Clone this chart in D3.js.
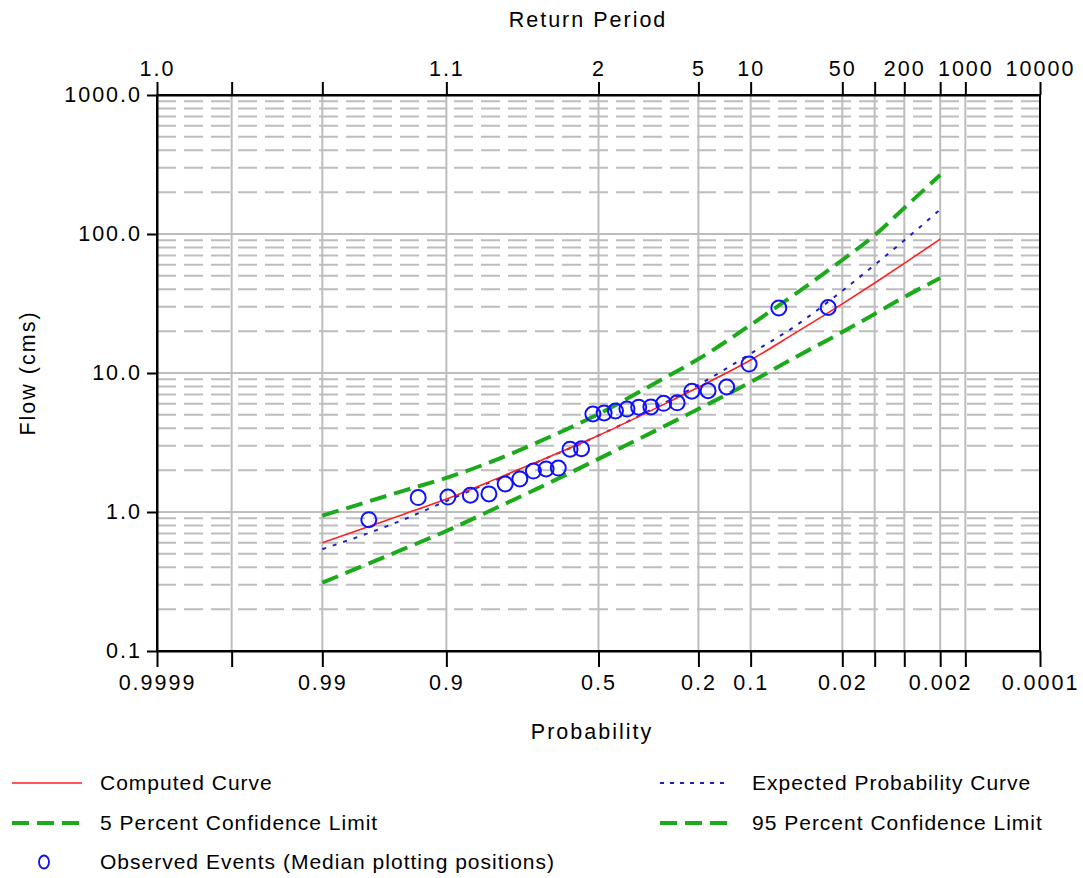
<!DOCTYPE html>
<html>
<head>
<meta charset="utf-8">
<script src="https://cdn.jsdelivr.net/npm/d3@7"></script>
<style>
body { margin: 0; background: #fff; }
text { font-family: "Liberation Sans", Arial, sans-serif; fill: #000; }
</style>
</head>
<body>
<div id="chart"></div>
<script>
// exceedance probabilities used for the fitted curves
var curveProbs = [0.99, 0.95, 0.9, 0.8, 0.7, 0.5, 0.3, 0.2, 0.1, 0.05, 0.02, 0.01, 0.005, 0.002];
var computedFlow = [0.60, 0.96, 1.24, 1.76, 2.28, 3.55, 5.8, 7.9, 12.4, 19.1, 31.4, 44.4, 61.4, 92];
var expectedFlow = [0.54, 0.88, 1.20, 1.74, 2.27, 3.55, 5.9, 8.2, 13.8, 21.4, 39, 60, 90, 150];
var upperFlow = [0.94, 1.42, 1.76, 2.41, 3.14, 5.07, 8.9, 12.6, 22.2, 36.4, 65, 98, 154, 266];
var lowerFlow = [0.31, 0.54, 0.73, 1.09, 1.46, 2.41, 4.02, 5.51, 8.6, 12.8, 19.7, 26.6, 35.2, 48.2];

// observed events, median plotting positions
var obsProbs = [0.0265, 0.0644, 0.1023, 0.1402, 0.1780, 0.2159, 0.2538, 0.2917, 0.3295, 0.3674, 0.4053, 0.4432, 0.4811,
                0.5189, 0.5568, 0.5947, 0.6326, 0.6705, 0.7083, 0.7462, 0.7841, 0.8220, 0.8598, 0.8977, 0.9356, 0.9735];
var obsFlow = [29.6, 29.4, 11.6, 7.93, 7.45, 7.4, 6.1, 6.05, 5.7, 5.68, 5.5, 5.33, 5.16,
               5.07, 2.85, 2.83, 2.07, 2.04, 1.97, 1.73, 1.59, 1.35, 1.32, 1.28, 1.27, 0.88];

// axis ticks
var probTicks = [0.9999, 0.999, 0.99, 0.9, 0.5, 0.2, 0.1, 0.02, 0.01, 0.005, 0.002, 0.001, 0.0001];
var probLabels = ["0.9999", "", "0.99", "0.9", "0.5", "0.2", "0.1", "0.02", "", "", "0.002", "", "0.0001"];
var returnLabels = ["1.0", "", "", "1.1", "2", "5", "10", "50", "", "200", "", "1000", "10000"];
var flowTicks = [0.1, 1, 10, 100, 1000];

var width = 1083;
var height = 878;
var plotL = 157, plotR = 1040, plotT = 95, plotB = 651;

// inverse standard normal (Acklam)
function qnorm(p) {
    var a = [-3.969683028665376e+01, 2.209460984245205e+02, -2.759285104469687e+02, 1.383577518672690e+02, -3.066479806614716e+01, 2.506628277459239e+00];
    var b = [-5.447609879822406e+01, 1.615858368580409e+02, -1.556989798598866e+02, 6.680131188771972e+01, -1.328068155288572e+01];
    var c = [-7.784894002430293e-03, -3.223964580411365e-01, -2.400758277161838e+00, -2.549732539343734e+00, 4.374664141464968e+00, 2.938163982698783e+00];
    var d = [7.784695709041462e-03, 3.224671290700398e-01, 2.445134137142996e+00, 3.754408661907416e+00];
    var pl = 0.02425, q, r;
    if (p < pl) {
        q = Math.sqrt(-2 * Math.log(p));
        return (((((c[0] * q + c[1]) * q + c[2]) * q + c[3]) * q + c[4]) * q + c[5]) / ((((d[0] * q + d[1]) * q + d[2]) * q + d[3]) * q + 1);
    }
    if (p <= 1 - pl) {
        q = p - 0.5; r = q * q;
        return (((((a[0] * r + a[1]) * r + a[2]) * r + a[3]) * r + a[4]) * r + a[5]) * q / (((((b[0] * r + b[1]) * r + b[2]) * r + b[3]) * r + b[4]) * r + 1);
    }
    q = Math.sqrt(-2 * Math.log(1 - p));
    return -(((((c[0] * q + c[1]) * q + c[2]) * q + c[3]) * q + c[4]) * q + c[5]) / ((((d[0] * q + d[1]) * q + d[2]) * q + d[3]) * q + 1);
}
// exceedance probability -> normal deviate
function zp(p) { return qnorm(1 - p); }

var x = d3.scaleLinear().domain([zp(0.9999), zp(0.0001)]).range([plotL, plotR]);
var y = d3.scaleLog().domain([0.1, 1000]).range([plotB, plotT]);
function px(p) { return x(zp(p)); }

var svg = d3.select("#chart").append("svg")
    .attr("width", width)
    .attr("height", height);

// horizontal grid
var minorFlows = y.ticks().filter(function (v) {
    var l = Math.log10(v);
    return Math.abs(l - Math.round(l)) > 1e-6;
});
svg.selectAll("line.hminor")
    .data(minorFlows)
    .enter().append("line")
    .attr("class", "hminor")
    .attr("x1", plotL).attr("x2", plotR)
    .attr("y1", y).attr("y2", y)
    .attr("stroke", "#bdbdbd")
    .attr("stroke-width", 2)
    .attr("stroke-dasharray", "19,8");
svg.selectAll("line.hmajor")
    .data([1, 10, 100])
    .enter().append("line")
    .attr("class", "hmajor")
    .attr("x1", plotL).attr("x2", plotR)
    .attr("y1", y).attr("y2", y)
    .attr("stroke", "#bdbdbd")
    .attr("stroke-width", 2);

// vertical grid
svg.selectAll("line.vgrid")
    .data(probTicks.slice(1, probTicks.length - 1))
    .enter().append("line")
    .attr("class", "vgrid")
    .attr("x1", px).attr("x2", px)
    .attr("y1", plotT).attr("y2", plotB)
    .attr("stroke", "#bdbdbd")
    .attr("stroke-width", 2);

// curves
function curveData(vals) {
    return curveProbs.map(function (p, i) { return { p: p, q: vals[i] }; });
}
var line = d3.line()
    .x(function (d) { return px(d.p); })
    .y(function (d) { return y(d.q); })
    .curve(d3.curveMonotoneX);

svg.append("path")
    .datum(curveData(upperFlow))
    .attr("d", line)
    .attr("fill", "none")
    .attr("stroke", "#1aaa1a")
    .attr("stroke-width", 4)
    .attr("stroke-dasharray", "17,8");
svg.append("path")
    .datum(curveData(lowerFlow))
    .attr("d", line)
    .attr("fill", "none")
    .attr("stroke", "#1aaa1a")
    .attr("stroke-width", 4)
    .attr("stroke-dasharray", "17,8");
svg.append("path")
    .datum(curveData(expectedFlow))
    .attr("d", line)
    .attr("fill", "none")
    .attr("stroke", "#2020c0")
    .attr("stroke-width", 2)
    .attr("stroke-dasharray", "4,7");
svg.append("path")
    .datum(curveData(computedFlow))
    .attr("d", line)
    .attr("fill", "none")
    .attr("stroke", "#ff2020")
    .attr("stroke-width", 1.6);

// observed events
svg.selectAll("circle.obs")
    .data(obsProbs)
    .enter().append("circle")
    .attr("class", "obs")
    .attr("cx", function (d) { return px(d); })
    .attr("cy", function (d, i) { return y(obsFlow[i]); })
    .attr("r", 7.5)
    .attr("fill", "none")
    .attr("stroke", "#1010ff")
    .attr("stroke-width", 2);

// frame
svg.append("rect")
    .attr("x", plotL).attr("y", plotT)
    .attr("width", plotR - plotL).attr("height", plotB - plotT)
    .attr("fill", "none")
    .attr("stroke", "#000")
    .attr("stroke-width", 2);

// axes
var zTicks = probTicks.map(zp);
var gBottom = svg.append("g")
    .attr("transform", "translate(0," + plotB + ")")
    .call(d3.axisBottom(x).tickValues(zTicks).tickSize(16).tickSizeOuter(0).tickPadding(8)
        .tickFormat(function (d, i) { return probLabels[i]; }));
var gTop = svg.append("g")
    .attr("transform", "translate(0," + plotT + ")")
    .call(d3.axisTop(x).tickValues(zTicks).tickSize(13).tickSizeOuter(0).tickPadding(6)
        .tickFormat(function (d, i) { return returnLabels[i]; }));
var gLeft = svg.append("g")
    .attr("transform", "translate(" + plotL + ",0)")
    .call(d3.axisLeft(y).tickValues(flowTicks).tickSize(10).tickSizeOuter(0).tickPadding(5)
        .tickFormat(d3.format(".1f")));

[gBottom, gTop, gLeft].forEach(function (g) {
    g.select(".domain").attr("stroke-width", 2);
    g.selectAll(".tick line").attr("stroke-width", 2);
    g.selectAll(".tick text")
        .style("font-family", "'Liberation Sans', Arial, sans-serif")
        .style("font-size", "21.5px")
        .style("letter-spacing", "2px");
});

// axis titles
svg.append("text")
    .attr("x", 588).attr("y", 27)
    .attr("text-anchor", "middle")
    .style("font-size", "21.5px").style("letter-spacing", "2px")
    .text("Return Period");
svg.append("text")
    .attr("x", 592).attr("y", 739)
    .attr("text-anchor", "middle")
    .style("font-size", "21.5px").style("letter-spacing", "2px")
    .text("Probability");
svg.append("text")
    .attr("transform", "translate(35,373) rotate(-90)")
    .attr("text-anchor", "middle")
    .style("font-size", "21.5px").style("letter-spacing", "2px")
    .text("Flow (cms)");

// legend
var legendItems = [
    { name: "Computed Curve", kind: "line", color: "#ff2020", w: 1.6, dash: null, col: 0, row: 0 },
    { name: "Expected Probability Curve", kind: "line", color: "#2020c0", w: 2, dash: "4,6", col: 1, row: 0 },
    { name: "5 Percent Confidence Limit", kind: "line", color: "#1aaa1a", w: 4, dash: "17,8", col: 0, row: 1 },
    { name: "95 Percent Confidence Limit", kind: "line", color: "#1aaa1a", w: 4, dash: "17,8", col: 1, row: 1 },
    { name: "Observed Events (Median plotting positions)", kind: "circle", color: "#1010ff", col: 0, row: 2 }
];
var colX = [10, 658];
var rowY = [783, 823, 862];
var leg = svg.selectAll("g.leg")
    .data(legendItems)
    .enter().append("g")
    .attr("class", "leg")
    .attr("transform", function (d) { return "translate(" + colX[d.col] + "," + rowY[d.row] + ")"; });
leg.filter(function (d) { return d.kind === "line"; })
    .append("line")
    .attr("x1", 2).attr("x2", 72)
    .attr("y1", 0).attr("y2", 0)
    .attr("stroke", function (d) { return d.color; })
    .attr("stroke-width", function (d) { return d.w; })
    .attr("stroke-dasharray", function (d) { return d.dash; });
leg.filter(function (d) { return d.kind === "circle"; })
    .append("ellipse")
    .attr("cx", 34).attr("cy", 0)
    .attr("rx", 5).attr("ry", 6.5)
    .attr("fill", "none")
    .attr("stroke", function (d) { return d.color; })
    .attr("stroke-width", 1.8);
leg.append("text")
    .attr("x", function (d) { return d.col === 0 ? 90 : 94; })
    .attr("y", 0)
    .attr("dy", "0.35em")
    .style("font-size", "21px")
    .style("letter-spacing", "1px")
    .text(function (d) { return d.name; });
</script>
</body>
</html>
